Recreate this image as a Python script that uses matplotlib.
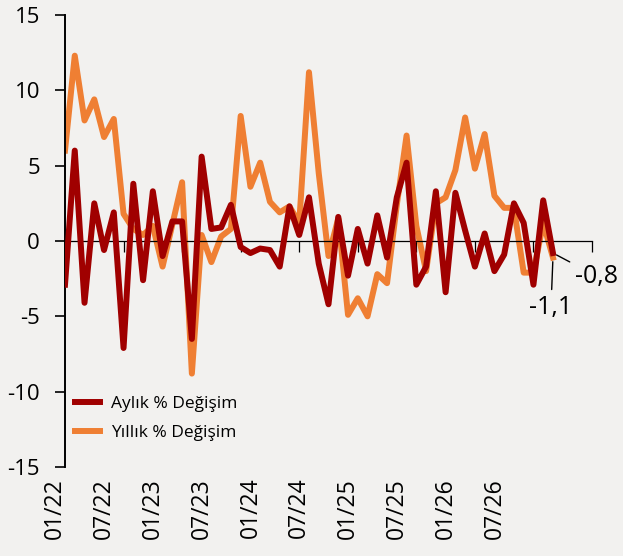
import numpy as np
from matplotlib import pyplot as plt

# aylık ve yıllık % değişim (01/22 - 03/26)
aylik = [-2.9, 6.0, -4.1, 2.5, -0.6, 1.9, -7.1, 3.8, -2.6, 3.3,
         -1.0, 1.3, 1.3, -6.5, 5.6, 0.8, 0.9, 2.4, -0.4, -0.8,
         -0.5, -0.6, -1.7, 2.3, 0.4, 2.9, -1.5, -4.2, 1.6, -2.3,
         0.8, -1.5, 1.7, -1.1, 2.9, 5.2, -2.9, -1.7, 3.3, -3.4,
         3.2, 0.7, -1.7, 0.5, -2.0, -0.9, 2.5, 1.2, -2.9, 2.7,
         -0.8]
yillik = [6.0, 12.3, 8.0, 9.4, 6.9, 8.1, 1.8, 0.8, 0.4, 1.0,
          -1.7, 1.1, 3.9, -8.8, 0.4, -1.4, 0.3, 0.8, 8.3, 3.6,
          5.2, 2.6, 1.9, 2.3, 1.2, 11.2, 4.5, -1.0, 1.5, -4.9,
          -3.8, -5.0, -2.2, -2.8, 2.4, 7.0, 1.0, -2.0, 2.5, 2.9,
          4.7, 8.2, 4.8, 7.1, 3.0, 2.2, 2.2, -2.1, -2.1, 1.2,
          -1.1]
xlabels = ['01/22', '07/22', '01/23', '07/23', '01/24',
           '07/24', '01/25', '07/25', '01/26', '07/26']
yticks = [-15, -10, -5, 0, 5, 10, 15]

bg = '#f2f1ef'
c_aylik = '#a00000'
c_yillik = '#ef7f33'

plt.rcParams['font.family'] = ['Open Sans', 'DejaVu Sans']

fig = plt.figure(figsize=(6.23, 5.56), dpi=100, facecolor=bg)
ax = fig.add_axes([65 / 623, 1 - 467 / 556, 527 / 623, 452 / 556])
ax.set_facecolor(bg)

x = np.arange(len(aylik))
ax.plot(x, yillik, color=c_yillik, lw=4.3, label='Yıllık % Değişim', zorder=2)
ax.plot(x, aylik, color=c_aylik, lw=4.3, label='Aylık % Değişim', zorder=3)

ax.set_xlim(0, 54)
ax.set_ylim(-15, 15)

# eksenler
for s in ['top', 'right']:
    ax.spines[s].set_visible(False)
ax.spines['left'].set_linewidth(1.4)
ax.spines['bottom'].set_position(('data', 0))
ax.spines['bottom'].set_linewidth(0.9)
ax.set_yticks(yticks)
ax.set_yticklabels([str(v) for v in yticks])
ax.tick_params(axis='y', length=7, width=1.2, labelsize=16, pad=11)
ax.set_xticks(np.arange(0, 55, 6))
ax.tick_params(axis='x', length=8, width=0.9, labelbottom=False)

# x etiketleri (Excel gibi sıkışık)
for k, lab in enumerate(xlabels):
    ax.text(-1.0 + 5 * k, -0.024, lab, rotation=90, ha='center', va='top',
            fontsize=16.5, transform=ax.get_xaxis_transform())

# son değerler
n = len(aylik) - 1
ax.annotate(f'{aylik[n]:.1f}'.replace('.', ','), xy=(n, aylik[n]),
            xytext=(22, -23), textcoords='offset pixels', ha='left',
            va='center', fontsize=18,
            arrowprops=dict(arrowstyle='-', color='black', lw=1,
                            shrinkA=2, shrinkB=3))
ax.annotate(f'{yillik[n]:.1f}'.replace('.', ','), xy=(n, yillik[n]),
            xytext=(-2, -50), textcoords='offset pixels', ha='center',
            va='center', fontsize=18,
            arrowprops=dict(arrowstyle='-', color='black', lw=1,
                            shrinkA=2, shrinkB=3))

h, l = ax.get_legend_handles_labels()
ax.legend(h[::-1], l[::-1], loc='center left', bbox_to_anchor=(0.019, 0.107),
          frameon=False, fontsize=12.5, handlelength=1.45, handletextpad=0.6,
          labelspacing=0.75, borderpad=0, borderaxespad=0)

plt.savefig('out.png', dpi=100, facecolor=bg)
